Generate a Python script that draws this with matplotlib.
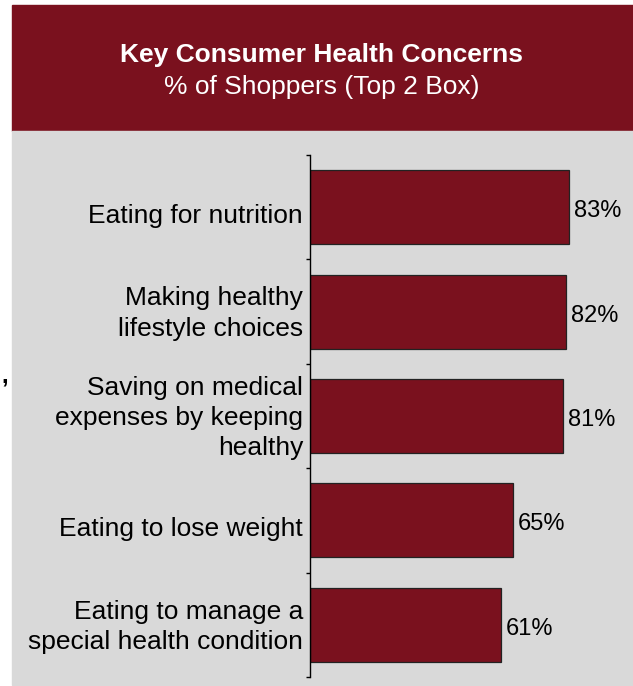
import matplotlib.pyplot as plt
from matplotlib.patches import Rectangle

# ---------------- Data ----------------
categories = [
    "Eating for nutrition",
    "Making healthy\nlifestyle choices",
    "Saving on medical\nexpenses by keeping\nhealthy",
    "Eating to lose weight",
    "Eating to manage a\nspecial health condition",
]
values = [83, 82, 81, 65, 61]
value_labels = ["83%", "82%", "81%", "65%", "61%"]

TITLE = "Key Consumer Health Concerns"
SUBTITLE = "% of Shoppers (Top 2 Box)"

# ---------------- Style ----------------
DARK_RED = "#7a111e"
PANEL_GRAY = "#d9d9d9"
W, H = 633, 686

plt.rcParams["font.family"] = ["Liberation Sans", "DejaVu Sans"]

fig = plt.figure(figsize=(W / 100, H / 100), dpi=100)

# header band and gray panel (behind the axes)
fig.patches.append(Rectangle((12 / W, 1 - 131 / H), 1 - 12 / W, 126 / H,
                             transform=fig.transFigure, color=DARK_RED, zorder=-10))
fig.patches.append(Rectangle((12 / W, 1 - 685 / H), 1 - 12 / W, 554 / H,
                             transform=fig.transFigure, color=PANEL_GRAY, zorder=-10))

fig.text(322 / W, 1 - 62 / H, TITLE, color="white", fontsize=19, fontweight="bold",
         ha="center", va="baseline")
fig.text(322 / W, 1 - 94 / H, SUBTITLE, color="white", fontsize=19,
         ha="center", va="baseline")
fig.text(1 / W, 1 - 382 / H, ",", fontsize=17, fontweight="bold", ha="left", va="baseline")

# ---------------- Chart ----------------
ax = fig.add_axes([310 / W, 1 - 677 / H, 1 - 310 / W, 522 / H])
ax.patch.set_visible(False)

y = list(range(len(categories)))
bars = ax.barh(y, values, height=0.71, color=DARK_RED, edgecolor="#222222", linewidth=0.9)
for bar, lab in zip(bars, value_labels):
    ax.annotate(lab, (bar.get_width(), bar.get_y() + bar.get_height() / 2),
                xytext=(5, -4), textcoords="offset pixels",
                fontsize=17, va="center", ha="left")

# category labels, right aligned against the axis line
for yi, cat in zip(y, categories):
    dy = -9 if "\n" not in cat else -2
    ax.annotate(cat, (0, yi), xycoords=ax.get_yaxis_transform(),
                xytext=(-7, dy), textcoords="offset pixels",
                fontsize=19, ha="right", va="center", linespacing=1.33,
                annotation_clip=False)

ax.set_xlim(0, 103.4)
ax.set_ylim(len(categories) - 0.5, -0.5)

ax.set_yticks([])
ax.set_yticks([i - 0.5 for i in range(len(categories) + 1)], minor=True)
ax.tick_params(axis="y", which="minor", length=3, width=1, color="black")
ax.set_xticks([])

for side in ("top", "right", "bottom"):
    ax.spines[side].set_visible(False)
ax.spines["left"].set_color("black")
ax.spines["left"].set_linewidth(1)

fig.savefig("out.png", dpi=100)
